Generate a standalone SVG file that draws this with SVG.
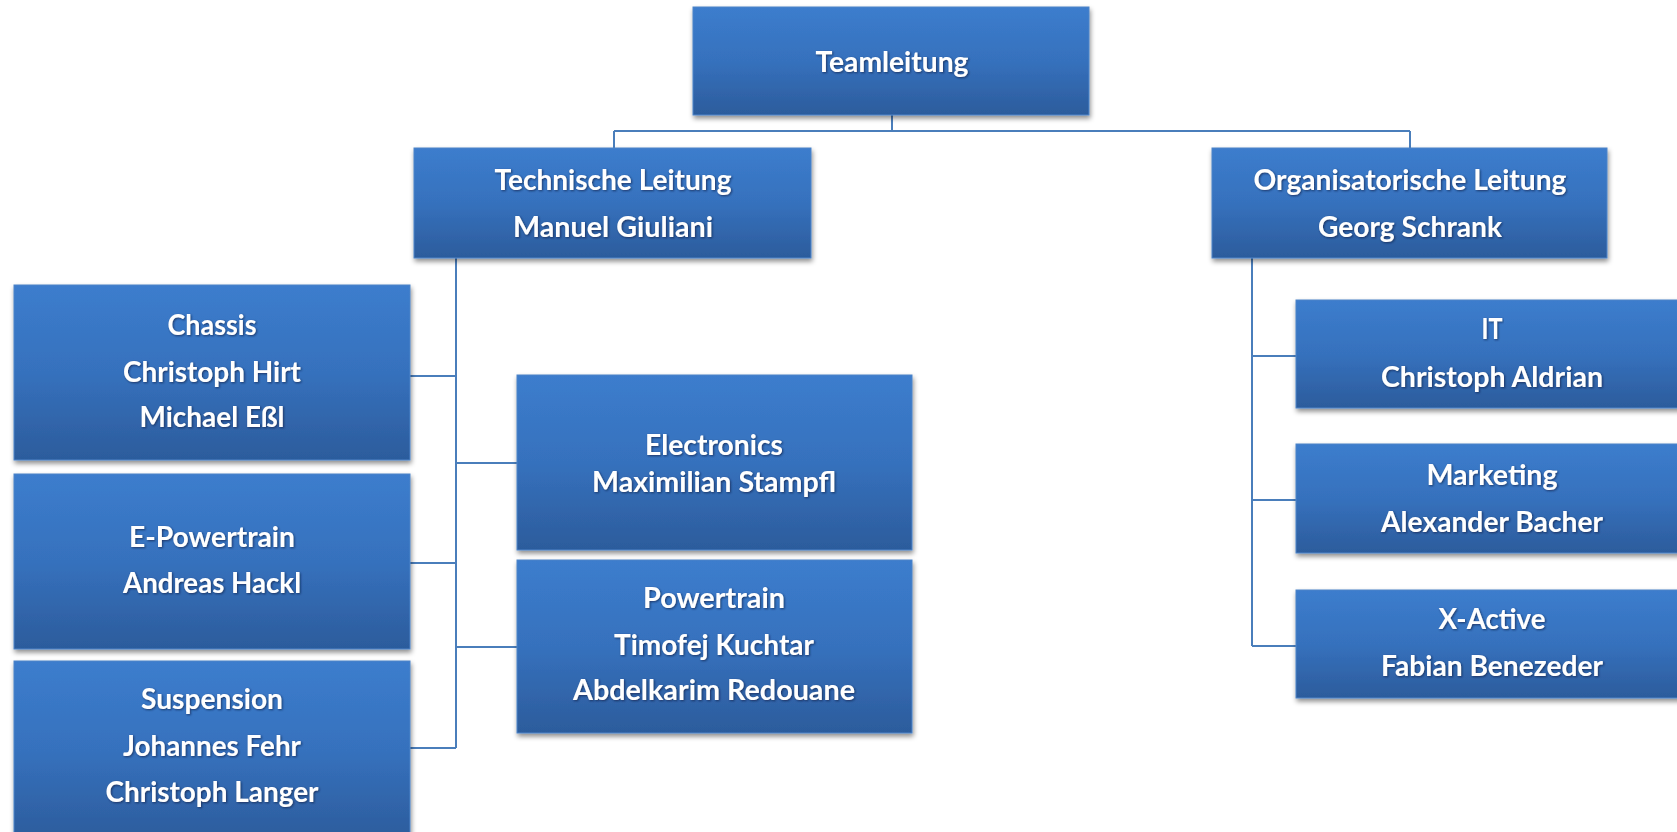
<svg xmlns="http://www.w3.org/2000/svg" width="1677" height="832" viewBox="0 0 1677 832">
<defs>
<linearGradient id="g" x1="0" y1="0" x2="0" y2="1">
<stop offset="0" stop-color="#3c7dcd"/>
<stop offset="0.5" stop-color="#3671bd"/>
<stop offset="1" stop-color="#2c5c9c"/>
</linearGradient>
<filter id="sh" x="-5%" y="-10%" width="110%" height="130%">
<feDropShadow dx="1" dy="3" stdDeviation="2.5" flood-color="#000" flood-opacity="0.45"/>
</filter>
<filter id="ts" x="-5%" y="-30%" width="110%" height="160%">
<feDropShadow dx="1" dy="1" stdDeviation="1" flood-color="#0a1f3f" flood-opacity="0.7"/>
</filter>
</defs>
<style>
.box{fill:url(#g);stroke:#4d84c8;stroke-width:1;filter:url(#sh)}
.t{font-family:Lato,"Open Sans","Liberation Sans",sans-serif;font-weight:bold;font-size:28px;fill:#fff;text-anchor:middle;filter:url(#ts)}
.c{fill:none;stroke:#4a7ebb;stroke-width:2}
</style>
<rect width="1677" height="832" fill="#fff"/>
<g id="connectors">
<path class="c" d="M892 115V131M614 131H1410M614 131V148M1410 131V148"/>
<path class="c" d="M456 258V748M410 376H456M410 563H456M410 748H456M456 463H517M456 647H517"/>
<path class="c" d="M1252 258V646M1252 356H1296M1252 500H1296M1252 646H1296"/>
</g>
<g id="teamleitung">
<rect class="box" x="693" y="7" width="396" height="108"/>
<text class="t" x="892" y="72" textLength="153" lengthAdjust="spacingAndGlyphs">Teamleitung</text>
</g>
<g id="technische-leitung">
<rect class="box" x="414" y="148" width="397" height="110"/>
<text class="t" x="613" y="190" textLength="237" lengthAdjust="spacingAndGlyphs">Technische Leitung</text>
<text class="t" x="613" y="237" textLength="200" lengthAdjust="spacingAndGlyphs">Manuel Giuliani</text>
</g>
<g id="organisatorische-leitung">
<rect class="box" x="1212" y="148" width="395" height="110"/>
<text class="t" x="1410" y="190" textLength="313" lengthAdjust="spacingAndGlyphs">Organisatorische Leitung</text>
<text class="t" x="1410" y="237" textLength="184" lengthAdjust="spacingAndGlyphs">Georg Schrank</text>
</g>
<g id="chassis">
<rect class="box" x="14" y="285" width="396" height="175"/>
<text class="t" x="212" y="335" textLength="89" lengthAdjust="spacingAndGlyphs">Chassis</text>
<text class="t" x="212" y="382" textLength="178" lengthAdjust="spacingAndGlyphs">Christoph Hirt</text>
<text class="t" x="212" y="427" textLength="145" lengthAdjust="spacingAndGlyphs">Michael Eßl</text>
</g>
<g id="e-powertrain">
<rect class="box" x="14" y="474" width="396" height="175"/>
<text class="t" x="212" y="547" textLength="166" lengthAdjust="spacingAndGlyphs">E-Powertrain</text>
<text class="t" x="212" y="593" textLength="178" lengthAdjust="spacingAndGlyphs">Andreas Hackl</text>
</g>
<g id="suspension">
<rect class="box" x="14" y="661" width="396" height="180"/>
<text class="t" x="212" y="709" textLength="142" lengthAdjust="spacingAndGlyphs">Suspension</text>
<text class="t" x="212" y="756" textLength="178" lengthAdjust="spacingAndGlyphs">Johannes Fehr</text>
<text class="t" x="212" y="802" textLength="213" lengthAdjust="spacingAndGlyphs">Christoph Langer</text>
</g>
<g id="electronics">
<rect class="box" x="517" y="375" width="395" height="175"/>
<text class="t" x="714" y="455" textLength="138" lengthAdjust="spacingAndGlyphs">Electronics</text>
<text class="t" x="714" y="492" textLength="244" lengthAdjust="spacingAndGlyphs">Maximilian Stampfl</text>
</g>
<g id="powertrain">
<rect class="box" x="517" y="560" width="395" height="173"/>
<text class="t" x="714" y="608" textLength="142" lengthAdjust="spacingAndGlyphs">Powertrain</text>
<text class="t" x="714" y="655" textLength="200" lengthAdjust="spacingAndGlyphs">Timofej Kuchtar</text>
<text class="t" x="714" y="700" textLength="282" lengthAdjust="spacingAndGlyphs">Abdelkarim Redouane</text>
</g>
<g id="it">
<rect class="box" x="1296" y="300" width="396" height="108"/>
<text class="t" x="1492" y="339" textLength="21" lengthAdjust="spacingAndGlyphs">IT</text>
<text class="t" x="1492" y="387" textLength="222" lengthAdjust="spacingAndGlyphs">Christoph Aldrian</text>
</g>
<g id="marketing">
<rect class="box" x="1296" y="444" width="396" height="109"/>
<text class="t" x="1492" y="485" textLength="131" lengthAdjust="spacingAndGlyphs">Marketing</text>
<text class="t" x="1492" y="532" textLength="222" lengthAdjust="spacingAndGlyphs">Alexander Bacher</text>
</g>
<g id="x-active">
<rect class="box" x="1296" y="590" width="396" height="108"/>
<text class="t" x="1492" y="629" textLength="107" lengthAdjust="spacingAndGlyphs">X-Active</text>
<text class="t" x="1492" y="676" textLength="222" lengthAdjust="spacingAndGlyphs">Fabian Benezeder</text>
</g>
</svg>
